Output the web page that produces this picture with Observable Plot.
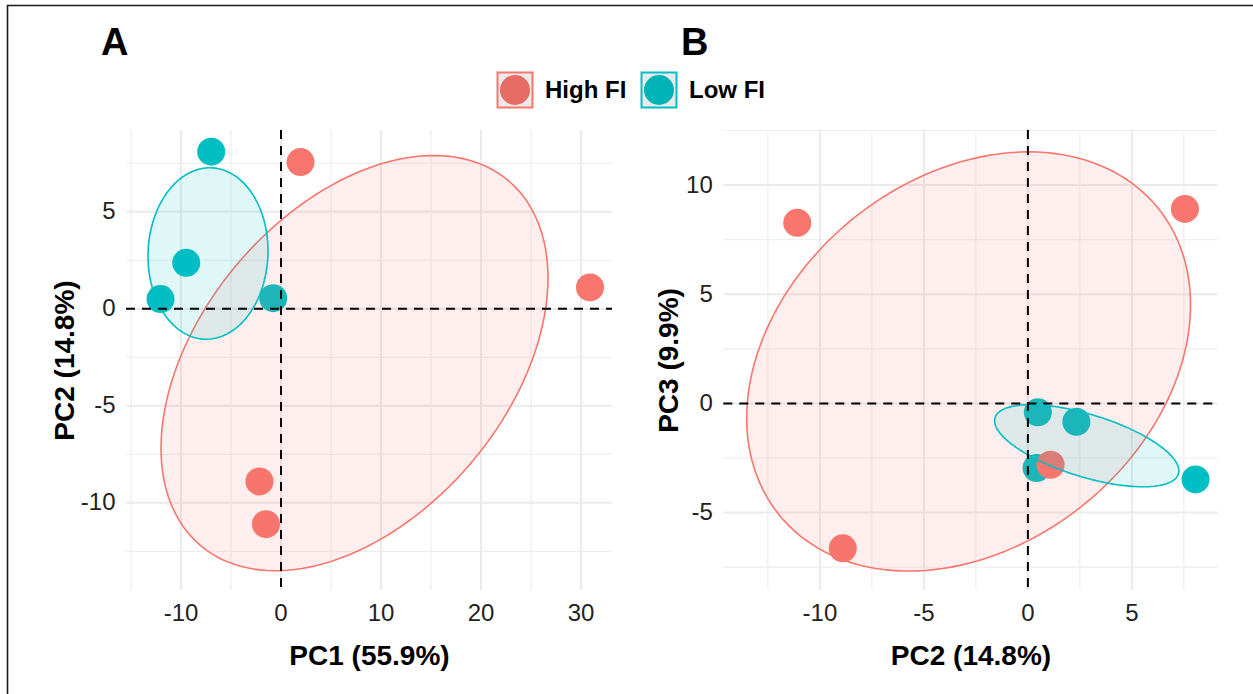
<!DOCTYPE html>
<html>
<head>
<meta charset="utf-8">
<script src="https://cdn.jsdelivr.net/npm/d3@7"></script>
<script src="https://cdn.jsdelivr.net/npm/@observablehq/plot@0.6"></script>
<style>
  body { margin: 0; background: white; }
  #wrap { position: relative; width: 1253px; height: 694px; background: white; overflow: hidden; font-family: "Liberation Sans", Arial, sans-serif; }
  .panel { position: absolute; top: 100px; }
  #overlay { position: absolute; left: 0; top: 0; pointer-events: none; }
</style>
</head>
<body>
<div id="wrap">
  <div id="panelA" class="panel" style="left:0px"></div>
  <div id="panelB" class="panel" style="left:630px"></div>
  <svg id="overlay" width="1253" height="694" font-family="Liberation Sans, Arial, sans-serif">
    <line x1="7" y1="5.5" x2="1253" y2="5.5" stroke="#1a1a1a" stroke-width="1.6"/>
    <line x1="7.5" y1="5" x2="7.5" y2="694" stroke="#1a1a1a" stroke-width="1.6"/>
    <text x="101" y="55" font-size="38" font-weight="900" fill="black">A</text>
    <text x="681" y="55" font-size="38" font-weight="900" fill="black">B</text>
    <g id="legend"></g>
  </svg>
</div>
<script>
// ---------- data ----------
const groups = ["High FI", "Low FI"];
const groupColors = ["#F8766D", "#00BFC4"];
const legendDotColors = ["#E66B62", "#00B3B7"];

// Panel A: PC1 vs PC2
const aGroup = ["Low FI", "Low FI", "Low FI", "Low FI", "High FI", "High FI", "High FI", "High FI"];
const aPC1 = [-6.98, -9.48, -12.05, -0.78, 1.95, 30.9, -2.15, -1.5];
const aPC2 = [8.1, 2.37, 0.5, 0.55, 7.56, 1.1, -8.9, -11.1];

// Panel B: PC2 vs PC3
const bGroup = ["Low FI", "Low FI", "Low FI", "Low FI", "High FI", "High FI", "High FI", "High FI"];
const bPC2 = [0.48, 2.33, 0.42, 8.06, -11.09, 7.55, -8.9, 1.09];
const bPC3 = [-0.41, -0.84, -2.96, -3.48, 8.27, 8.91, -6.64, -2.81];

// Ellipses (center, half-extents, correlation)
const ellGroup = ["High FI", "Low FI"];
const ellA_cx = [7.35, -7.3];
const ellA_cy = [-2.8, 2.85];
const ellA_rx = [19.35, 6.0];
const ellA_ry = [10.7, 4.42];
const ellA_rho = [0.41, 0.03];
const ellB_cx = [-2.85, 2.83];
const ellB_cy = [1.92, -1.94];
const ellB_rx = [10.67, 4.43];
const ellB_ry = [9.6, 1.88];
const ellB_rho = [0.27, -0.61];

// Ticks
const aXTicks = [-10, 0, 10, 20, 30];
const aXMinor = [-15, -5, 5, 15, 25];
const aYTicks = [-10, -5, 0, 5];
const aYMinor = [-12.5, -7.5, -2.5, 2.5, 7.5];
const bXTicks = [-10, -5, 0, 5];
const bXMinor = [-12.5, -7.5, -2.5, 2.5, 7.5];
const bYTicks = [-5, 0, 5, 10];
const bYMinor = [-7.5, -2.5, 2.5, 7.5, 12.5];

// ---------- build ----------
function pointsTable(g, xs, ys) {
  return g.map((d, i) => ({group: d, x: xs[i], y: ys[i]}));
}
function ellipseTable(cx, cy, rx, ry, rho) {
  const out = [];
  ellGroup.forEach((g, k) => {
    const s = Math.sqrt(1 - rho[k] * rho[k]);
    for (let i = 0; i < 160; i++) {
      const t = i / 160 * 2 * Math.PI;
      out.push({group: g, x: cx[k] + rx[k] * Math.cos(t), y: cy[k] + ry[k] * (rho[k] * Math.cos(t) + s * Math.sin(t))});
    }
  });
  return out;
}

function panel(o) {
  const fmt = d => String(d);
  return Plot.plot({
    width: o.width, height: 580,
    marginLeft: o.ml, marginRight: o.mr, marginTop: 30, marginBottom: 90,
    x: {domain: o.xDomain, label: null},
    y: {domain: o.yDomain, label: null},
    color: {domain: groups, range: groupColors},
    style: {fontFamily: "Liberation Sans, Arial, sans-serif", fontSize: "24px", color: "#222", background: "white", overflow: "visible"},
    marks: [
      Plot.ruleX(o.xMinor, {stroke: "#EEEEEE", strokeWidth: 1.2}),
      Plot.ruleY(o.yMinor, {stroke: "#EEEEEE", strokeWidth: 1.2}),
      Plot.ruleX(o.xTicks, {stroke: "#EBEBEB", strokeWidth: 2}),
      Plot.ruleY(o.yTicks, {stroke: "#EBEBEB", strokeWidth: 2}),
      Plot.dot(o.pts.filter(d => d.group === "Low FI"), {x: "x", y: "y", fill: "group", r: 14, stroke: null}),
      Plot.dot(o.pts.filter(d => d.group === "High FI"), {x: "x", y: "y", fill: "group", r: 14, stroke: null}),
      Plot.line(o.ell, {x: "x", y: "y", z: "group", stroke: "group", fill: "group", fillOpacity: 0.12, strokeWidth: 1.6, curve: "linear-closed"}),
      Plot.ruleX([0], {stroke: "black", strokeWidth: 2, strokeDasharray: "9,7"}),
      Plot.ruleY([0], {stroke: "black", strokeWidth: 2, strokeDasharray: "9,7"}),
      Plot.axisX(o.xTicks, {tickSize: 0, tickPadding: 13, tickFormat: fmt, fontSize: 24, label: null, fill: "#222"}),
      Plot.axisY(o.yTicks, {tickSize: 0, tickPadding: 11, tickFormat: fmt, fontSize: 24, label: null, fill: "#222"}),
      Plot.text([o.xTitle], {text: d => d, frameAnchor: "bottom", textAnchor: "middle", lineAnchor: "bottom", dy: 74, fontSize: 28, fontWeight: "bold", fill: "black"}),
      Plot.text([o.yTitle], {text: d => d, frameAnchor: "left", textAnchor: "middle", lineAnchor: "bottom", rotate: -90, dx: o.yTitleDx, fontSize: 28, fontWeight: "bold", fill: "black"})
    ]
  });
}

document.getElementById("panelA").append(panel({
  width: 630, ml: 126, mr: 18,
  xDomain: [-15.45, 33.15], yDomain: [-14.52, 9.19],
  xTicks: aXTicks, xMinor: aXMinor, yTicks: aYTicks, yMinor: aYMinor,
  pts: pointsTable(aGroup, aPC1, aPC2),
  ell: ellipseTable(ellA_cx, ellA_cy, ellA_rx, ellA_ry, ellA_rho),
  xTitle: "PC1 (55.9%)", yTitle: "PC2 (14.8%)", yTitleDx: -53
}));
document.getElementById("panelB").append(panel({
  width: 623, ml: 93.3, mr: 35.3,
  xDomain: [-14.62, 9.15], yDomain: [-8.57, 12.5],
  xTicks: bXTicks, xMinor: bXMinor, yTicks: bYTicks, yMinor: bYMinor,
  pts: pointsTable(bGroup, bPC2, bPC3),
  ell: ellipseTable(ellB_cx, ellB_cy, ellB_rx, ellB_ry, ellB_rho),
  xTitle: "PC2 (14.8%)", yTitle: "PC3 (9.9%)", yTitleDx: -46
}));

// ---------- legend ----------
const legendX = [497.5, 641.5];
const lg = d3.select("#legend");
groups.forEach((g, i) => {
  const x0 = legendX[i];
  lg.append("rect").attr("x", x0).attr("y", 72.5).attr("width", 35).attr("height", 35)
    .attr("fill", "#EAEAEA").attr("stroke", groupColors[i]).attr("stroke-width", 2);
  lg.append("circle").attr("cx", x0 + 17.5).attr("cy", 90).attr("r", 15).attr("fill", legendDotColors[i]);
  lg.append("text").attr("x", x0 + 47.5).attr("y", 98).attr("font-size", 24).attr("font-weight", "bold").attr("fill", "black").text(g);
});
</script>
</body>
</html>
